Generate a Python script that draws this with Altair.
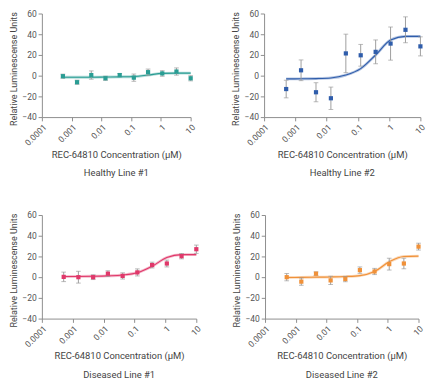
import altair as alt
import pandas as pd

conc = [0.000508, 0.00152, 0.00457, 0.0137, 0.0412, 0.123, 0.370, 1.11, 3.33, 10.0]

titles = ["Healthy Line #1", "Healthy Line #2", "Diseased Line #1", "Diseased Line #2"]
xtitles = ["REC-64810 Concentration (µM)", "REC-64810  Concentration (µM)",
           "REC-64810  Concentration (µM)", "REC-64810  Concentration (µM)"]
colors = ["#2a9d94", "#2f5dab", "#e0386a", "#f09139"]

h1_vals = [-0.5, -6.3, 0.6, -2.5, 0.6, -1.9, 3.4, 2.2, 4.0, -2.5]
h1_err = [2.0, 2.0, 4.0, 2.0, 1.5, 3.5, 3.0, 2.7, 3.5, 2.5]
h1_fit = [-1.5, -1.5, -1.5, -1.3, -1.1, -0.8, 0.6, 2.2, 2.5, 2.5]

h2_vals = [-12.9, 5.2, -16.0, -21.8, 21.5, 19.7, 23.0, 31.0, 44.3, 28.3]
h2_err = [8.5, 10.0, 9.2, 10.8, 18.6, 10.5, 11.5, 16.0, 12.5, 9.2]
h2_fit = [-3.1, -3.0, -2.8, -2.2, 0.6, 6.8, 20.0, 34.5, 38.0, 38.0]

d1_vals = [0.3, 0.0, 0.0, 3.4, 1.2, 4.6, 11.7, 13.2, 20.3, 27.0]
d1_err = [4.6, 5.7, 2.3, 2.8, 3.0, 3.4, 2.8, 3.3, 2.6, 4.0]
d1_fit = [0.6, 0.7, 0.9, 1.3, 2.1, 4.3, 10.5, 19.0, 21.8, 21.8]

d2_vals = [0.0, -4.3, 3.4, -3.1, -1.8, 6.8, 5.5, 12.6, 13.2, 29.5]
d2_err = [3.5, 3.5, 1.7, 4.0, 2.6, 3.1, 3.0, 5.7, 5.1, 3.3]
d2_fit = [-0.3, -0.2, 0.0, 0.2, 0.6, 1.5, 5.5, 14.8, 20.0, 20.3]

series = [(h1_vals, h1_err, h1_fit), (h2_vals, h2_err, h2_fit),
          (d1_vals, d1_err, d1_fit), (d2_vals, d2_err, d2_fit)]

x_ticks = [0.0001, 0.001, 0.01, 0.1, 1, 10]
y_ticks = [-40, -20, 0, 20, 40, 60]

FONT = "Roboto"


def panel(i, w, h):
    vals, err, fit = series[i]
    df = pd.DataFrame({"c": conc, "v": vals,
                       "lo": [a - b for a, b in zip(vals, err)],
                       "hi": [a + b for a, b in zip(vals, err)],
                       "fit": fit})
    xs = alt.Scale(type="log", domain=[0.0001, 10], nice=False)
    ys = alt.Scale(domain=[-40, 60], nice=False)
    xaxis = alt.Axis(values=x_ticks, format="~g", labelAngle=-45,
                     title=xtitles[i], grid=False, titlePadding=3)
    yaxis = alt.Axis(values=y_ticks, title="Relative Luminescense Units",
                     grid=False, titlePadding=4, labelOverlap=False,
                     titleY=-2, titleAlign="right", titleAngle=270)
    xenc = alt.X("c:Q", scale=xs, axis=xaxis)
    base = alt.Chart(df)
    band = base.mark_line(interpolate="monotone", color=colors[i], opacity=0.35,
                          strokeWidth=3).encode(
        x=xenc, y=alt.Y("fit:Q", scale=ys, axis=yaxis))
    line = base.mark_line(interpolate="monotone", color=colors[i],
                          strokeWidth=1.2).encode(
        x=xenc, y=alt.Y("fit:Q", scale=ys, axis=yaxis))
    eb = base.mark_errorbar(ticks=alt.TickConfig(size=5), color="#999999",
                            thickness=1).encode(
        x=xenc, y=alt.Y("lo:Q", scale=ys, axis=yaxis), y2="hi:Q")
    pts = base.mark_point(filled=True, shape="square", size=20, color=colors[i],
                          opacity=1).encode(
        x=xenc, y=alt.Y("v:Q", scale=ys, axis=yaxis))
    return alt.layer(band, line, eb, pts).properties(
        width=w, height=h,
        title=alt.TitleParams(titles[i], orient="bottom", fontSize=10,
                              fontWeight="normal", color="#444444", font=FONT,
                              offset=10))


top = alt.hconcat(panel(0, 158, 110), panel(1, 166, 110), spacing=35)
bottom = alt.hconcat(panel(2, 164, 110), panel(3, 163, 110), spacing=30)
chart = alt.vconcat(top, bottom, spacing=35).properties(
    padding={"top": -10, "left": 0, "right": 0, "bottom": 0}
).configure_view(stroke=None).configure_axis(
    labelFont=FONT, titleFont=FONT, labelFontSize=9, titleFontSize=10,
    labelColor="#555555", titleColor="#444444", titleFontWeight="normal",
    domainColor="#888888", tickColor="#888888", tickSize=4
).configure_axisY(titleFontSize=9.5)

chart.save("out.html", embed_options={"renderer": "svg", "actions": False})
